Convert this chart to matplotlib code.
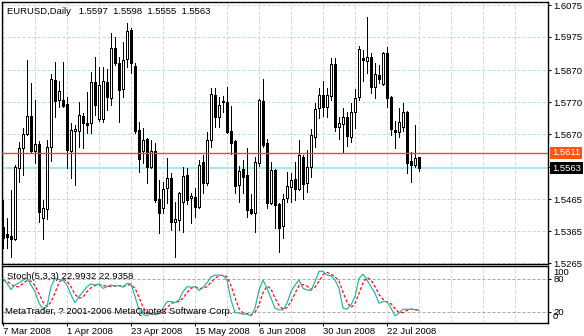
import matplotlib
matplotlib.use("Agg")
import matplotlib.pyplot as plt
import matplotlib.transforms as mtransforms
import numpy as np

plt.rcParams['font.family'] = ['Liberation Sans', 'DejaVu Sans']
plt.rcParams['font.size'] = 6.8
plt.rcParams['lines.scale_dashes'] = False

# EURUSD daily bars, 7 Mar 2008 .. 1 Aug 2008
opens = [1.5378, 1.5356, 1.5350, 1.5341, 1.5563, 1.5626, 1.5670, 1.5727, 1.5617, 1.5639,
         1.5406, 1.5435, 1.5629, 1.5840, 1.5777, 1.5777, 1.5764, 1.5617, 1.5680, 1.5680,
         1.5727, 1.5705, 1.5705, 1.5834, 1.5717, 1.5717, 1.5834, 1.5783, 1.5940, 1.5893,
         1.5812, 1.5906, 1.5997, 1.5884, 1.5683, 1.5617, 1.5655, 1.5567, 1.5617, 1.5466,
         1.5438, 1.5501, 1.5532, 1.5394, 1.5400, 1.5457, 1.5542, 1.5469, 1.5472, 1.5441,
         1.5582, 1.5516, 1.5651, 1.5793, 1.5724, 1.5774, 1.5771, 1.5680, 1.5648, 1.5510,
         1.5560, 1.5542, 1.5435, 1.5422, 1.5579, 1.5774, 1.5642, 1.5454, 1.5557, 1.5450,
         1.5381, 1.5469, 1.5504, 1.5529, 1.5497, 1.5598, 1.5516, 1.5567, 1.5661, 1.5752,
         1.5793, 1.5755, 1.5790, 1.5890, 1.5692, 1.5702, 1.5724, 1.5661, 1.5739, 1.5786,
         1.5909, 1.5899, 1.5912, 1.5818, 1.5856, 1.5827, 1.5925, 1.5786, 1.5683, 1.5676,
         1.5692, 1.5739, 1.5586, 1.5573, 1.5597]
highs = [1.5463, 1.5406, 1.5494, 1.5573, 1.5645, 1.5689, 1.5903, 1.5830, 1.5777, 1.5648,
         1.5463, 1.5651, 1.5859, 1.5896, 1.5837, 1.5896, 1.5786, 1.5705, 1.5698, 1.5771,
         1.5736, 1.5802, 1.5865, 1.5912, 1.5881, 1.5881, 1.5874, 1.5987, 1.5975, 1.5912,
         1.5959, 1.6019, 1.6003, 1.5893, 1.5708, 1.5689, 1.5658, 1.5651, 1.5642, 1.5526,
         1.5520, 1.5595, 1.5548, 1.5457, 1.5488, 1.5567, 1.5563, 1.5485, 1.5501, 1.5589,
         1.5604, 1.5676, 1.5815, 1.5815, 1.5786, 1.5790, 1.5818, 1.5758, 1.5651, 1.5570,
         1.5589, 1.5626, 1.5482, 1.5598, 1.5780, 1.5843, 1.5655, 1.5582, 1.5560, 1.5454,
         1.5482, 1.5551, 1.5548, 1.5582, 1.5651, 1.5604, 1.5620, 1.5686, 1.5768, 1.5815,
         1.5837, 1.5815, 1.5909, 1.5909, 1.5724, 1.5752, 1.5739, 1.5768, 1.5812, 1.5947,
         1.5934, 1.6038, 1.5925, 1.5893, 1.5887, 1.5928, 1.5943, 1.5790, 1.5711, 1.5752,
         1.5768, 1.5742, 1.5614, 1.5698, 1.5598]
lows = [1.5312, 1.5312, 1.5284, 1.5337, 1.5520, 1.5542, 1.5667, 1.5611, 1.5579, 1.5394,
        1.5341, 1.5403, 1.5586, 1.5724, 1.5755, 1.5755, 1.5563, 1.5532, 1.5510, 1.5629,
        1.5626, 1.5673, 1.5673, 1.5730, 1.5711, 1.5708, 1.5746, 1.5761, 1.5887, 1.5708,
        1.5786, 1.5881, 1.5862, 1.5673, 1.5551, 1.5579, 1.5516, 1.5563, 1.5457, 1.5359,
        1.5422, 1.5454, 1.5369, 1.5284, 1.5369, 1.5362, 1.5450, 1.5391, 1.5410, 1.5438,
        1.5485, 1.5510, 1.5629, 1.5692, 1.5692, 1.5739, 1.5673, 1.5607, 1.5485, 1.5457,
        1.5485, 1.5410, 1.5419, 1.5362, 1.5570, 1.5629, 1.5438, 1.5450, 1.5375, 1.5300,
        1.5344, 1.5457, 1.5457, 1.5463, 1.5494, 1.5466, 1.5488, 1.5535, 1.5629, 1.5720,
        1.5727, 1.5724, 1.5777, 1.5680, 1.5655, 1.5611, 1.5633, 1.5645, 1.5689, 1.5777,
        1.5837, 1.5862, 1.5799, 1.5783, 1.5830, 1.5824, 1.5755, 1.5667, 1.5626, 1.5661,
        1.5680, 1.5548, 1.5520, 1.5567, 1.5555]
closes = [1.5344, 1.5347, 1.5341, 1.5567, 1.5626, 1.5670, 1.5727, 1.5617, 1.5639, 1.5425,
          1.5438, 1.5629, 1.5843, 1.5774, 1.5805, 1.5758, 1.5620, 1.5683, 1.5686, 1.5730,
          1.5705, 1.5698, 1.5834, 1.5761, 1.5824, 1.5837, 1.5786, 1.5940, 1.5893, 1.5808,
          1.5903, 1.5994, 1.5893, 1.5680, 1.5592, 1.5651, 1.5567, 1.5617, 1.5463, 1.5422,
          1.5497, 1.5532, 1.5394, 1.5403, 1.5485, 1.5538, 1.5463, 1.5476, 1.5441, 1.5573,
          1.5516, 1.5651, 1.5796, 1.5724, 1.5761, 1.5771, 1.5676, 1.5642, 1.5507, 1.5554,
          1.5535, 1.5432, 1.5422, 1.5582, 1.5777, 1.5636, 1.5454, 1.5557, 1.5447, 1.5375,
          1.5466, 1.5507, 1.5526, 1.5497, 1.5604, 1.5513, 1.5567, 1.5667, 1.5749, 1.5793,
          1.5755, 1.5793, 1.5890, 1.5692, 1.5705, 1.5724, 1.5664, 1.5739, 1.5783, 1.5937,
          1.5903, 1.5912, 1.5818, 1.5859, 1.5843, 1.5925, 1.5783, 1.5686, 1.5676, 1.5708,
          1.5739, 1.5579, 1.5573, 1.5595, 1.5563]

# Stochastic(5,3,3): main (%K) and signal (%D)
stoch_k = [81, 72, 61, 69, 73, 78, 81, 69, 57, 36, 25, 30, 66, 81, 79, 78, 69, 51, 37, 48,
           57, 66, 71, 69, 71, 63, 66, 69, 67, 68, 65, 72, 71, 48, 24, 16, 13, 18, 15, 18,
           27, 39, 39, 37, 42, 57, 66, 65, 66, 59, 65, 73, 84, 87, 87, 86, 78, 42, 19, 18,
           16, 16, 13, 27, 60, 78, 63, 45, 27, 24, 24, 36, 57, 69, 78, 63, 60, 59, 75, 94,
           94, 87, 86, 78, 63, 27, 25, 33, 48, 81, 89, 78, 66, 54, 36, 39, 39, 27, 13, 18,
           25, 25, 25, 24, 22.9932]
stoch_d = [78, 76, 70, 66, 66, 72, 77, 76, 68, 53, 38, 30, 38, 55, 74, 80, 76, 66, 52, 45,
           47, 57, 64, 68, 70, 68, 67, 66, 67, 68, 67, 68, 70, 63, 47, 29, 18, 16, 15, 17,
           20, 28, 35, 38, 39, 45, 55, 63, 66, 63, 63, 66, 74, 81, 86, 87, 84, 68, 46, 26,
           18, 17, 15, 19, 33, 55, 67, 62, 45, 32, 25, 28, 39, 54, 68, 70, 67, 61, 65, 76,
           88, 92, 89, 84, 76, 56, 38, 28, 35, 54, 73, 83, 78, 66, 52, 43, 38, 35, 26, 19,
           19, 23, 25, 25, 22.9358]

price_ticks = [1.6075, 1.5975, 1.5870, 1.5770, 1.5670, 1.5567, 1.5465, 1.5365, 1.5265]
price_labels = ['1.6075', '1.5975', '1.5870', '1.5770', '1.5670', '', '1.5465', '1.5365', '1.5265']
date_pos = [0, 16, 32, 48, 64, 80, 96]
date_labels = ['7 Mar 2008', '1 Apr 2008', '23 Apr 2008', '15 May 2008',
               '6 Jun 2008', '30 Jun 2008', '22 Jul 2008']
hline_level = 1.5611

opens = np.array(opens)
highs = np.array(highs)
lows = np.array(lows)
closes = np.array(closes)
x = np.arange(len(closes))

px = 0.72  # one pixel at 100 dpi, in points
dash = (0, (2.16, 1.44))
grid_c = '#A8E4E4'

fig = plt.figure(figsize=(5.84, 3.36), dpi=100)
ax = fig.add_axes([2 / 584, 72 / 336, 546 / 584, 262 / 336])
sub = fig.add_axes([2 / 584, 13 / 336, 546 / 584, 57 / 336])

for a in (ax, sub):
    a.set_xlim(-0.25, 136.25)
    for s in a.spines.values():
        s.set_linewidth(1.0)
        s.set_color('black')
    for g in range(0, 136, 8):
        a.axvline(g, color=grid_c, lw=px, ls=dash, zorder=0)
    a.yaxis.tick_right()
    a.tick_params(axis='y', right=True, left=False, length=2.2, width=px, pad=1.8)

# price window
ax.set_ylim(1.5262, 1.60845)
ax.set_yticks(price_ticks)
ax.set_yticklabels(price_labels)
ax.tick_params(axis='x', bottom=False, labelbottom=False)
for v in price_ticks:
    ax.axhline(v, color=grid_c, lw=px, ls=dash, zorder=0)

ax.axhline(closes[-1], color='#A8E8E8', lw=1.5, zorder=1)
ax.vlines(x, lows, highs, color='black', lw=px, zorder=2, antialiased=False)
up = closes >= opens
ax.bar(x, np.abs(closes - opens), bottom=np.minimum(opens, closes), width=0.5,
       color=np.where(up, 'white', 'black'), edgecolor='black', linewidth=px,
       zorder=3, antialiased=False)
ax.axhline(hline_level, color='#E8501E', lw=1.0, zorder=4)

tr = mtransforms.blended_transform_factory(ax.transAxes, ax.transData)
ax.text(1.0075, hline_level, f'{hline_level:.4f}', transform=tr, color='white',
        va='center', ha='left', clip_on=False,
        bbox=dict(boxstyle='square,pad=0.18', fc='#FF5511', ec='none'))
ax.text(1.0075, closes[-1], f'{closes[-1]:.4f}', transform=tr, color='white',
        va='center', ha='left', clip_on=False,
        bbox=dict(boxstyle='square,pad=0.18', fc='black', ec='none'))

ax.text(5 / 546, 1 - 9 / 262,
        f'EURUSD,Daily   {opens[-1]:.4f}  {highs[-1]:.4f}  {lows[-1]:.4f}  {closes[-1]:.4f}',
        transform=ax.transAxes, va='center', ha='left')

# stochastic window
sub.set_ylim(0, 103.6)
for lv in (80, 20):
    sub.axhline(lv, color='#A8A8A8', lw=px, ls=dash, zorder=0)
sub.plot(x, stoch_k, color='#20B2AA', lw=0.85, zorder=3)
sub.plot(x, stoch_d, color='red', lw=0.85, ls=dash, zorder=2)
sub.set_yticks([80, 20])
sub.set_yticklabels(['80', '20'])
str_ = mtransforms.blended_transform_factory(sub.transAxes, sub.transData)
sub.text(1.0092, 91, '100', transform=str_, va='center', ha='left', clip_on=False)
sub.text(1.0092, 11.5, '0', transform=str_, va='center', ha='left', clip_on=False)
sub.set_xticks(date_pos)
sub.set_xticklabels(date_labels, ha='left')
sub.tick_params(axis='x', length=2.2, width=px, pad=1.0)
sub.text(5 / 546, 0.81, f'Stoch(5,3,3) {stoch_k[-1]:.4f} {stoch_d[-1]:.4f}',
         transform=sub.transAxes, va='center', ha='left')
sub.text(3 / 546, 0.21, 'MetaTrader, ? 2001-2006 MetaQuotes Software Corp.',
         transform=sub.transAxes, va='center', ha='left')

fig.savefig('out.png', dpi=100)
